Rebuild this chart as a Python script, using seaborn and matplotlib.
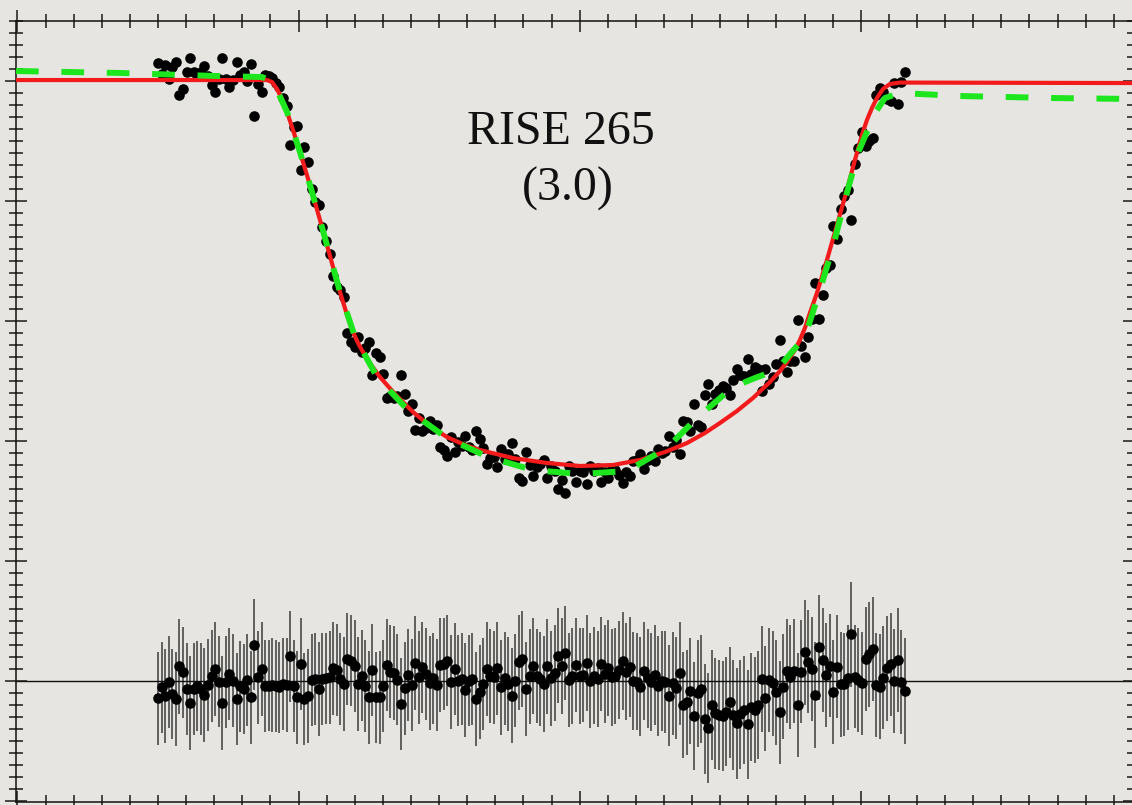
import matplotlib
matplotlib.use("Agg")
import matplotlib.pyplot as plt
from matplotlib.ticker import MultipleLocator
import seaborn as sns
import pandas as pd

# ---------------- data (time in minutes from mid-transit, flux in ppt) -------------
time_min = [
    -88.5, -87.75, -87.0, -86.25, -85.5, -84.75, -84.0, -83.25, -82.5, -81.75,
    -81.0, -80.25, -79.5, -78.75, -78.0, -77.25, -76.5, -75.75, -75.0, -74.25,
    -73.5, -72.75, -72.0, -71.25, -70.5, -69.75, -69.0, -68.25, -67.5, -66.75,
    -66.0, -65.25, -64.5, -63.75, -63.0, -62.25, -61.5, -60.75, -60.0, -59.25,
    -58.5, -57.75, -57.0, -56.25, -55.5, -54.75, -54.0, -53.25, -52.5, -51.75,
    -51.0, -50.25, -49.5, -48.75, -48.0, -47.25, -46.5, -45.75, -45.0, -44.25,
    -43.5, -42.75, -42.0, -41.25, -40.5, -39.75, -39.0, -38.25, -37.5, -36.75,
    -36.0, -35.25, -34.5, -33.75, -33.0, -32.25, -31.5, -30.75, -30.0, -29.25,
    -28.5, -27.75, -27.0, -26.25, -25.5, -24.75, -24.0, -23.25, -22.5, -21.75,
    -21.0, -20.25, -19.5, -18.75, -18.0, -17.25, -16.5, -15.75, -15.0, -14.25,
    -13.5, -12.75, -12.0, -11.25, -10.5, -9.75, -9.0, -8.25, -7.5, -6.75,
    -6.0, -5.25, -4.5, -3.75, -3.0, -2.25, -1.5, -0.75, 0.0, 0.75,
    1.5, 2.25, 3.0, 3.75, 4.5, 5.25, 6.0, 6.75, 7.5, 8.25,
    9.0, 9.75, 10.5, 11.25, 12.0, 12.75, 13.5, 14.25, 15.0, 15.75,
    16.5, 17.25, 18.0, 18.75, 19.5, 20.25, 21.0, 21.75, 22.5, 23.25,
    24.0, 24.75, 25.5, 26.25, 27.0, 27.75, 28.5, 29.25, 30.0, 30.75,
    31.5, 32.25, 33.0, 33.75, 34.5, 35.25, 36.0, 36.75, 37.5, 38.25,
    39.0, 39.75, 40.5, 41.25, 42.0, 42.75, 43.5, 44.25, 45.0, 45.75,
    46.5, 47.25, 48.0, 48.75, 49.5, 50.25, 51.0, 51.75, 52.5, 53.25,
    54.0, 54.75, 55.5, 56.25, 57.0, 57.75, 58.5, 59.25, 60.0, 60.75,
    61.5, 62.25, 63.0, 63.75, 64.5, 65.25, 66.0, 66.75, 67.5, 68.25,
]

flux_ppt = [
    1.53, 0.61, 1.31, 0.14, 1.17, 1.58, -1.14, -0.64, 0.75, 1.92,
    0.75, 0.48, 0.75, 1.25, 0.42, -0.36, -0.92, 0.14, 1.92, 0.14,
    -0.50, 0.06, 1.58, 0.53, 0.75, -0.03, 1.44, -2.94, -0.22, -0.92,
    0.48, 0.42, 0.23, -0.13, -0.53, -1.43, -2.10, -5.34, -3.80, -3.75,
    -7.44, -5.49, -6.73, -9.04, -10.12, -10.31, -12.17, -13.31, -14.44, -16.24,
    -17.18, -17.45, -18.01, -21.04, -21.79, -22.16, -21.33, -22.59, -22.27, -21.76,
    -24.51, -22.63, -23.03, -24.39, -26.44, -26.22, -26.44, -26.21, -24.48, -26.08,
    -27.48, -26.93, -29.07, -28.12, -29.19, -28.88, -28.37, -28.99, -28.63, -30.48,
    -30.76, -31.22, -29.64, -30.95, -30.11, -30.38, -29.59, -30.47, -30.71, -29.14,
    -29.85, -30.57, -31.88, -31.40, -31.34, -32.16, -30.65, -31.48, -31.08, -30.17,
    -31.48, -33.05, -33.37, -30.91, -32.01, -32.89, -32.15, -31.92, -31.55, -33.07,
    -32.09, -32.53, -34.03, -33.23, -34.31, -32.11, -32.47, -33.39, -32.53, -32.58,
    -33.57, -32.08, -32.49, -32.21, -33.44, -32.60, -33.07, -32.31, -32.40, -32.83,
    -33.52, -32.58, -32.93, -31.68, -31.58, -31.09, -32.31, -31.60, -31.23, -31.69,
    -30.70, -31.00, -30.84, -29.55, -30.47, -29.93, -31.06, -28.29, -28.39, -29.17,
    -26.95, -28.65, -28.82, -26.18, -25.25, -26.94, -26.05, -25.71, -25.45, -25.58,
    -26.15, -24.88, -23.98, -24.48, -24.60, -23.16, -24.39, -23.85, -23.98, -25.87,
    -23.98, -25.23, -24.63, -23.56, -21.57, -23.32, -24.24, -23.32, -23.35, -19.95,
    -22.08, -22.98, -21.32, -19.83, -16.81, -19.84, -17.83, -15.58, -15.32, -12.10,
    -13.17, -10.65, -9.60, -9.08, -11.58, -6.94, -5.59, -4.26, -5.41, -5.02,
    -4.77, -1.17, -0.57, -0.91, -1.48, -1.64, -0.18, -1.88, -0.07, 0.71,
]

resid_ppt = [
    -1.44, -0.53, -1.23, -0.06, -1.08, -1.50, 1.23, 0.73, -0.67, -1.83,
    -0.67, -0.39, -0.67, -1.17, -0.33, 0.44, 1.00, -0.06, -1.83, -0.06,
    0.58, 0.03, -1.50, -0.44, -0.67, 0.11, -1.36, 3.03, 0.31, 1.00,
    -0.39, -0.39, -0.33, -0.39, -0.53, -0.25, -0.33, 2.06, -0.39, -1.36,
    1.42, -1.50, -1.23, 0.11, 0.17, -0.67, 0.17, 0.22, 0.31, 1.06,
    0.94, 0.17, -0.25, 1.83, 1.69, 1.23, -0.25, 0.44, -0.39, -1.36,
    0.94, -1.36, -1.36, -0.39, 1.33, 0.78, 0.67, 0.11, -1.92, -0.61,
    0.50, -0.33, 1.50, 0.31, 1.14, 0.58, -0.17, 0.22, -0.33, 1.33,
    1.42, 1.69, -0.06, 1.00, 0.03, 0.17, -0.75, 0.03, 0.17, -1.50,
    -0.89, -0.25, 1.00, 0.44, 0.31, 1.06, -0.53, 0.22, -0.25, -1.23,
    0.03, 1.56, 1.83, -0.67, 0.39, 1.23, 0.44, 0.17, -0.25, 1.23,
    0.22, 0.64, 2.11, 1.28, 2.33, 0.11, 0.44, 1.33, 0.44, 0.50,
    1.50, 0.03, 0.44, 0.17, 1.42, 0.58, 1.06, 0.31, 0.44, 0.92,
    1.67, 0.78, 1.19, 0.00, -0.06, -0.47, 0.83, 0.22, -0.06, 0.50,
    -0.39, 0.00, -0.06, -1.23, -0.19, -0.61, 0.64, -2.00, -1.78, -0.83,
    -2.89, -1.03, -0.69, -3.17, -3.89, -2.00, -2.69, -2.83, -2.89, -2.56,
    -1.78, -2.83, -3.53, -2.78, -2.42, -3.61, -2.14, -2.42, -2.00, 0.17,
    -1.44, 0.08, -0.19, -0.94, -2.61, -0.47, 0.83, 0.36, 0.83, -2.00,
    0.78, 2.39, 1.61, 1.00, -1.17, 2.81, 1.75, 0.50, 1.28, -0.89,
    1.19, -0.28, -0.28, 0.28, 3.89, 0.36, 0.08, -0.19, 1.83, 2.22,
    2.67, -0.33, -0.47, 0.28, 1.06, 1.39, 0.00, 1.75, -0.06, -0.83,
]

resid_err = [
    3.85, 3.80, 3.90, 3.85, 3.75, 3.90, 3.95, 3.80, 3.85, 3.90,
    3.80, 3.75, 3.85, 3.90, 3.80, 3.85, 3.90, 3.80, 3.95, 3.85,
    3.80, 3.90, 3.85, 3.80, 3.75, 3.85, 3.90, 3.80, 3.85, 3.90,
    3.85, 3.80, 3.90, 3.85, 3.80, 3.85, 3.90, 3.80, 3.85, 3.90,
    3.80, 3.85, 3.90, 3.85, 3.80, 3.90, 3.85, 3.80, 3.85, 3.90,
    3.85, 3.80, 3.90, 3.85, 3.80, 3.85, 3.90, 3.80, 3.85, 3.90,
    3.85, 3.80, 3.90, 3.85, 3.80, 3.85, 3.90, 3.80, 3.85, 3.90,
    3.85, 3.80, 3.90, 3.85, 3.80, 3.85, 3.90, 3.80, 3.85, 3.90,
    3.85, 3.80, 3.90, 3.85, 3.80, 3.85, 3.90, 3.80, 3.85, 3.90,
    3.90, 3.85, 3.95, 3.90, 3.85, 3.90, 3.95, 3.85, 3.90, 3.95,
    3.90, 3.95, 4.00, 3.90, 3.95, 4.00, 3.90, 3.95, 4.00, 3.95,
    3.95, 4.00, 3.95, 4.00, 3.95, 3.90, 4.00, 3.95, 4.00, 3.95,
    4.00, 3.95, 4.05, 4.00, 3.95, 4.05, 4.00, 4.05, 4.00, 4.10,
    4.10, 4.05, 4.15, 4.10, 4.05, 4.15, 4.10, 4.15, 4.10, 4.20,
    4.15, 4.20, 4.25, 4.20, 4.30, 4.25, 4.30, 4.40, 4.35, 4.45,
    4.50, 4.45, 4.50, 4.55, 4.60, 4.55, 4.60, 4.55, 4.60, 4.55,
    4.60, 4.55, 4.60, 4.55, 4.50, 4.55, 4.50, 4.45, 4.50, 4.40,
    4.40, 4.35, 4.40, 4.35, 4.30, 4.35, 4.30, 4.35, 4.30, 4.35,
    4.30, 4.35, 4.30, 4.35, 4.40, 4.35, 4.30, 4.35, 4.30, 4.35,
    4.30, 4.35, 4.30, 4.40, 4.35, 4.30, 4.35, 4.30, 4.35, 4.40,
    4.35, 4.30, 4.35, 4.30, 4.35, 4.30, 4.35, 4.30, 4.35, 4.40,
]

# red model (fit) curve
red_t = [-118.3, -65.63, -64.57, -63.52, -62.47, -61.42, -60.16, -58.70, -56.60, -54.50,
         -52.40, -50.30, -48.62, -47.57, -46.52, -45.47, -43.58, -41.91, -38.76, -34.98,
         -31.41, -27.85, -24.07, -20.92, -13.99, -6.86, 0.06, 6.99, 12.65, 17.90,
         22.52, 26.30, 29.44, 33.01, 36.37, 39.94, 42.04, 43.51, 45.18, 46.23,
         47.28, 48.33, 49.80, 51.90, 54.00, 56.10, 57.78, 59.25, 60.30, 61.35,
         62.40, 63.66, 65.13, 67.23, 116.35]
red_f = [0.08, 0.08, -0.08, -0.67, -1.50, -2.58, -4.08, -5.92, -8.67, -11.58,
         -14.58, -17.58, -19.75, -20.92, -21.83, -22.58, -23.75, -24.67, -26.08, -27.58,
         -28.75, -29.67, -30.33, -30.75, -31.42, -31.83, -32.08, -32.00, -31.58, -30.92,
         -30.17, -29.33, -28.50, -27.50, -26.42, -25.08, -24.17, -23.42, -22.42, -21.58,
         -20.58, -19.33, -17.67, -14.92, -12.00, -9.08, -6.58, -4.50, -3.25, -2.25,
         -1.42, -0.67, -0.25, -0.13, -0.17]

# green model (alternative fit) curve
green_t = [-118.3, -96.48, -76.54, -66.68, -65.0, -63.52, -61.42, -58.70, -56.60, -54.50,
           -52.40, -50.30, -47.15, -42.53, -36.04, -27.85, -19.24, -9.80, 0.06, 9.93,
           18.32, 24.61, 32.17, 36.79, 41.40, 44.54, 47.28, 50.43, 53.16, 55.68,
           58.41, 61.98, 64.07, 67.23, 79.81, 99.54, 116.35]
green_f = [0.83, 0.67, 0.42, 0.33, 0.08, -0.75, -2.58, -5.92, -8.67, -11.58,
           -14.58, -17.58, -21.33, -24.67, -27.42, -29.75, -31.33, -32.42, -32.75, -32.50,
           -30.58, -28.08, -25.50, -24.75, -24.08, -22.58, -21.33, -17.42, -13.83, -9.92,
           -6.00, -2.67, -1.42, -1.00, -1.25, -1.42, -1.50]

title_lines = ["RISE 265", "(3.0)"]
RESID_OFFSET = -50.0

# ---------------- figure ---------------
BG = "#e6e5e1"
fig = plt.figure(figsize=(11.32, 8.05), dpi=100, facecolor=BG)
ax = fig.add_axes([16 / 1132, 3 / 805, 1118 / 1132, 781 / 805])
ax.set_facecolor(BG)

df = pd.DataFrame({"t": time_min, "flux": flux_ppt,
                   "res": [RESID_OFFSET + r for r in resid_ppt], "err": resid_err})

# residual error bars and zero line
ax.vlines(df["t"], df["res"] - df["err"], df["res"] + df["err"],
          colors="#3c3c3c", linewidth=1.1, zorder=1)
ax.axhline(RESID_OFFSET, color="#111111", linewidth=1.0, zorder=1)

sns.scatterplot(data=df, x="t", y="flux", ax=ax, color="black", s=58,
                linewidth=0, zorder=2)
sns.scatterplot(data=df, x="t", y="res", ax=ax, color="black", s=58,
                linewidth=0, zorder=2)

sns.lineplot(x=red_t, y=red_f, ax=ax, color="#f21a1a", linewidth=3.0,
             sort=False, estimator=None, zorder=3)
sns.lineplot(x=green_t, y=green_f, ax=ax, color="#1ee61e", linewidth=4.3,
             linestyle=(0, (3.8, 3.8)), sort=False, estimator=None, zorder=4)

ax.set_xlim(-118.3, 116.35)
ax.set_ylim(-60.08, 5.0)
ax.set_xlabel("")
ax.set_ylabel("")

ax.xaxis.set_major_locator(MultipleLocator(59))
ax.xaxis.set_minor_locator(MultipleLocator(5.9))
ax.yaxis.set_major_locator(MultipleLocator(10))
ax.yaxis.set_minor_locator(MultipleLocator(1))
ax.tick_params(which="both", direction="inout", top=True, bottom=True,
               left=True, right=True, labelbottom=False, labelleft=False,
               color="#1a1a1a", width=1.1)
ax.tick_params(which="major", length=16)
ax.tick_params(which="minor", length=10.5)
for sp in ax.spines.values():
    sp.set_color("#111111")
    sp.set_linewidth(1.1)

fig.text(561 / 1132, 1 - 144 / 805, title_lines[0], ha="center", va="baseline",
         fontsize=34.5, family=["Liberation Serif", "DejaVu Serif"], color="#111111")
fig.text(568 / 1132, 1 - 201 / 805, title_lines[1], ha="center", va="baseline",
         fontsize=34.5, family=["Liberation Serif", "DejaVu Serif"], color="#111111")

fig.savefig("out.png", dpi=100, facecolor=BG)
